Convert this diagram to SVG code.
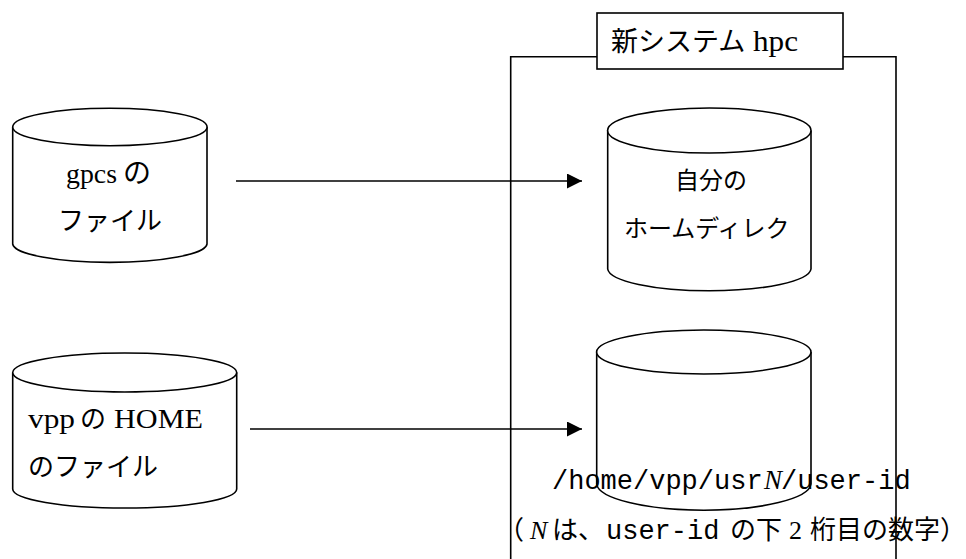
<svg xmlns="http://www.w3.org/2000/svg" width="966" height="559" viewBox="0 0 966 559">
  <style>
    .ln { fill: none; stroke: #000; stroke-width: 1.6; }
    .cyl { fill: #fff; stroke: #000; stroke-width: 1.6; }
    .jp { font-family: "Noto Sans CJK JP", sans-serif; fill: #000; }
    .ser { font-family: "Liberation Serif", "Noto Sans CJK JP", serif; fill: #000; }
    .mono { font-family: "Liberation Mono", "Noto Sans CJK JP", monospace; fill: #000; }
    .it { font-family: "Liberation Serif", serif; font-style: italic; }
  </style>
  <defs>
    <marker id="arrow" markerUnits="userSpaceOnUse" markerWidth="15" markerHeight="15" refX="15" refY="7.5" orient="auto">
      <path d="M0,0 L15,7.5 L0,15 Z" fill="#000"/>
    </marker>
  </defs>
  <rect width="966" height="559" fill="#fff"/>

  <!-- new system frame with its title tab -->
  <g id="system-hpc">
    <path class="ln" d="M510.7,559 V56.7 H597 M843,56.7 H896 V559"/>
    <rect x="597" y="13" width="246" height="56" fill="#fff" stroke="#000" stroke-width="1.6"/>
    <text y="51"><tspan class="jp" x="611" font-size="27">新システム</tspan><tspan class="ser" x="753" font-size="30" textLength="45" lengthAdjust="spacingAndGlyphs">hpc</tspan></text>
  </g>

  <!-- source: gpcs files -->
  <g id="gpcs-files">
    <path class="cyl" d="M12.7,127 V244 A97.2,19 0 0 0 207,244 V127"/>
    <ellipse class="cyl" cx="109.9" cy="127" rx="97.2" ry="18.7"/>
    <text y="183"><tspan class="ser" x="66" font-size="27" textLength="51" lengthAdjust="spacingAndGlyphs">gpcs</tspan><tspan class="jp" x="123" font-size="28">の</tspan></text>
    <text class="jp" x="58" y="230" font-size="26">ファイル</text>
  </g>

  <!-- target: own home directory -->
  <g id="home-dir">
    <path class="cyl" d="M607.7,130.5 V269 A101.7,22.5 0 0 0 811,269 V130.5"/>
    <ellipse class="cyl" cx="709.3" cy="130.5" rx="101.7" ry="22.5"/>
    <text class="jp" x="675" y="189" font-size="24">自分の</text>
    <text class="jp" x="624" y="237" font-size="24">ホームディレク</text>
  </g>

  <!-- source: vpp HOME files -->
  <g id="vpp-home-files">
    <path class="cyl" d="M12.7,372.5 V489 A112,19 0 0 0 236.7,489 V372.5"/>
    <ellipse class="cyl" cx="124.7" cy="372.5" rx="112" ry="19.5"/>
    <text y="428"><tspan class="ser" x="28" font-size="28" textLength="47" lengthAdjust="spacingAndGlyphs">vpp</tspan><tspan class="jp" x="80" font-size="26">の</tspan><tspan class="ser" x="114" font-size="28" textLength="89" lengthAdjust="spacingAndGlyphs">HOME</tspan></text>
    <text class="jp" x="28" y="476" font-size="26">のファイル</text>
  </g>

  <!-- target: /home/vpp/usrN/user-id -->
  <g id="vpp-dir">
    <path class="cyl" d="M596.7,352 V484 A107.2,27 0 0 0 811,484 V352"/>
    <ellipse class="cyl" cx="703.8" cy="352" rx="107.2" ry="22"/>
    <text y="489" font-size="27"><tspan class="mono" x="552">/home/vpp/usr</tspan><tspan class="it" x="764">N</tspan><tspan class="mono" x="781">/user-id</tspan></text>
    <text y="539" font-size="26"><tspan class="jp" x="498">（</tspan><tspan class="it" x="530">N</tspan><tspan class="jp" x="552">は、</tspan><tspan class="mono" x="606" font-size="27">user-id</tspan><tspan class="jp" x="730">の下</tspan><tspan class="ser" x="789">2</tspan><tspan class="jp" x="810">桁目の数字）</tspan></text>
  </g>

  <!-- transfer arrows -->
  <g id="connectors">
    <line class="ln" x1="236" y1="181" x2="582" y2="181" marker-end="url(#arrow)"/>
    <line class="ln" x1="250" y1="429" x2="582" y2="429" marker-end="url(#arrow)"/>
  </g>
</svg>
